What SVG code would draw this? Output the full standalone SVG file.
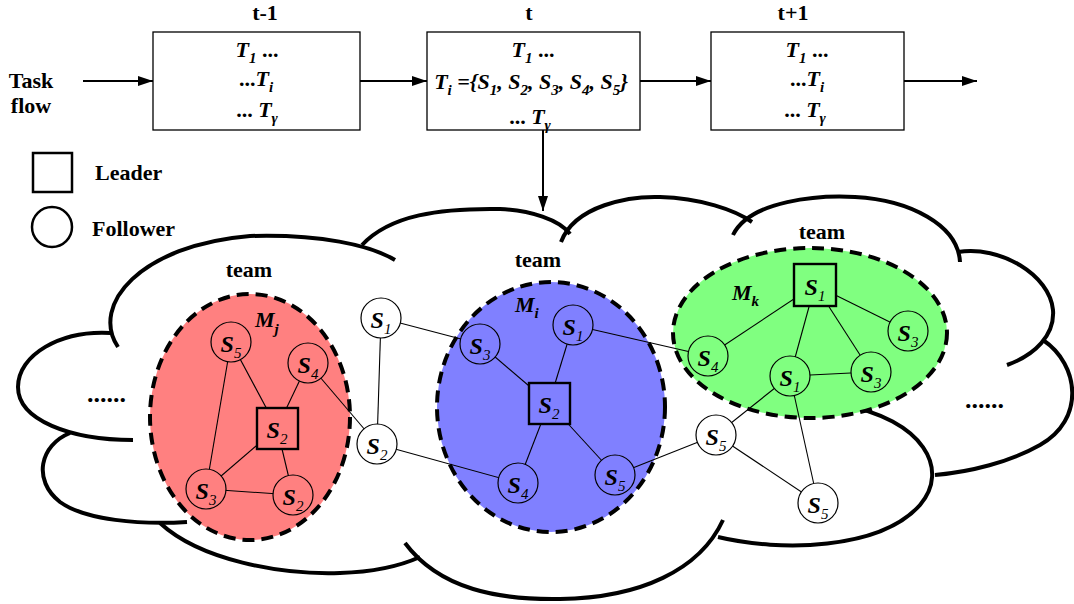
<svg xmlns="http://www.w3.org/2000/svg" width="1074" height="604" viewBox="0 0 1074 604" font-family="'Liberation Serif', 'Times New Roman', 'DejaVu Serif', serif">
<defs>
<marker id="ah" markerUnits="userSpaceOnUse" markerWidth="16" markerHeight="10" refX="15" refY="5" orient="auto">
<path d="M0,0 L15,5 L0,10 z" fill="#000"/>
</marker>
<style>
.lbl{font-weight:bold;font-size:22px;fill:#000}
.bi{font-weight:bold;font-style:italic;font-size:22px;fill:#000}
.sub{font-size:15px}
.sn{font-size:15px;font-weight:normal}
.node{font-weight:bold;font-style:italic;font-size:24px;text-anchor:middle;fill:#000}
.box{fill:#fff;stroke:#000;stroke-width:1.3}
.cloud{fill:none;stroke:#000;stroke-width:4}
.team{stroke:#000;stroke-width:4;stroke-dasharray:12 7}
.edge{stroke:#000;stroke-width:1.1;fill:none}
.fc{stroke:#000;stroke-width:1.2}
.ld{stroke:#000;stroke-width:2.4}
.flow{stroke:#000;stroke-width:2;fill:none;marker-end:url(#ah)}
.dots{font-weight:bold;font-size:26px;fill:#000}
</style>
</defs>
<rect width="1074" height="604" fill="#fff"/>

<!-- top task flow -->
<g id="taskflow-label">
<text class="lbl" x="31" y="88" text-anchor="middle">Task</text>
<text class="lbl" x="31" y="113" text-anchor="middle">flow</text>
</g>
<g id="box-t-1">
<text class="lbl" x="265" y="20" text-anchor="middle">t-1</text>
<rect class="box" x="153" y="32" width="207" height="98"/>
<text class="bi" x="257" y="57" text-anchor="middle">T<tspan class="sub" dy="6">1</tspan><tspan dy="-6" font-style="normal"> ...</tspan></text>
<text class="bi" x="256" y="86" text-anchor="middle"><tspan font-style="normal">...</tspan>T<tspan class="sub" dy="6">i</tspan></text>
<text class="bi" x="257" y="117" text-anchor="middle"><tspan font-style="normal">... </tspan>T<tspan class="sub" dy="6">γ</tspan></text>
</g>
<g id="box-t">
<text class="lbl" x="529" y="20" text-anchor="middle">t</text>
<rect class="box" x="427" y="32" width="213" height="98"/>
<text class="bi" x="533" y="57" text-anchor="middle">T<tspan class="sub" dy="6">1</tspan><tspan dy="-6" font-style="normal"> ...</tspan></text>
<text class="bi" x="531" y="89" text-anchor="middle">T<tspan class="sub" dy="6">i</tspan><tspan dy="-6"> ={S</tspan><tspan class="sub" dy="6">1</tspan><tspan dy="-6">, S</tspan><tspan class="sub" dy="6">2</tspan><tspan dy="-6">, S</tspan><tspan class="sub" dy="6">3</tspan><tspan dy="-6">, S</tspan><tspan class="sub" dy="6">4</tspan><tspan dy="-6">, S</tspan><tspan class="sub" dy="6">5</tspan><tspan dy="-6">}</tspan></text>
<text class="bi" x="530" y="124" text-anchor="middle"><tspan font-style="normal">... </tspan>T<tspan class="sub" dy="6">γ</tspan></text>
</g>
<g id="box-t+1">
<text class="lbl" x="793" y="20" text-anchor="middle">t+1</text>
<rect class="box" x="711" y="32" width="193" height="98"/>
<text class="bi" x="807" y="57" text-anchor="middle">T<tspan class="sub" dy="6">1</tspan><tspan dy="-6" font-style="normal"> ...</tspan></text>
<text class="bi" x="807" y="86" text-anchor="middle"><tspan font-style="normal">...</tspan>T<tspan class="sub" dy="6">i</tspan></text>
<text class="bi" x="805" y="117" text-anchor="middle"><tspan font-style="normal">... </tspan>T<tspan class="sub" dy="6">γ</tspan></text>
</g>

<!-- legend -->
<g id="legend-leader">
<rect x="33" y="153" width="39" height="39" fill="none" stroke="#000" stroke-width="2.5"/>
<text class="lbl" x="95" y="180">Leader</text>
</g>
<g id="legend-follower">
<circle cx="52" cy="227" r="20" fill="none" stroke="#000" stroke-width="2.5"/>
<text class="lbl" x="92" y="236">Follower</text>
</g>

<!-- cloud -->
<g id="cloud" class="cloud">
<path d="M118,347 C90,305 140,245 250,236 C320,234 370,245 395,260"/>
<path d="M111,333 C60,330 18,355 18,387 C18,420 70,440 133,440"/>
<path d="M70,433 C40,445 32,480 60,502 C85,520 140,525 187,522"/>
<path d="M160,523 C200,560 280,575 340,573 C375,572 400,566 420,557"/>
<path d="M405,543 C440,590 500,600 560,599 C640,598 700,570 723,520"/>
<path d="M718,537 C780,552 880,550 920,505 C950,470 925,420 840,404"/>
<path d="M1043,340 C1080,365 1085,420 1040,445 C1010,462 970,472 935,475"/>
<path d="M958,252 C1000,245 1050,275 1053,310 C1055,335 1035,355 1007,365"/>
<path d="M733,235 C750,200 820,195 855,197 C910,200 958,225 960,262"/>
<path d="M561,242 C575,205 630,196 660,197 C700,198 735,210 752,222"/>
<path d="M362,245 C390,215 440,208 500,209 C530,210 560,220 570,234"/>
</g>
<g id="dots">
<text class="dots" x="87" y="402">......</text>
<text class="dots" x="965" y="408">......</text>
</g>

<!-- teams -->
<g id="team-Mj">
<ellipse class="team" cx="250" cy="417" rx="100" ry="123" fill="#FF8080"/>
<text class="lbl" x="249" y="277" text-anchor="middle">team</text>
<text class="bi" x="255" y="327">M<tspan class="sub" dy="7">j</tspan></text>
</g>
<g id="team-Mi">
<ellipse class="team" cx="551" cy="407" rx="114" ry="125" fill="#8080FF"/>
<text class="lbl" x="538" y="267" text-anchor="middle">team</text>
<text class="bi" x="515" y="312">M<tspan class="sub" dy="6">i</tspan></text>
</g>
<g id="team-Mk">
<ellipse class="team" cx="810" cy="333" rx="137" ry="85" fill="#80FF80"/>
<text class="lbl" x="822" y="239" text-anchor="middle">team</text>
<text class="bi" x="732" y="300">M<tspan class="sub" dy="6">k</tspan></text>
</g>

<!-- connectors -->
<g id="connectors">
<line class="flow" x1="83" y1="81" x2="153" y2="81"/>
<line class="flow" x1="360" y1="81" x2="427" y2="81"/>
<line class="flow" x1="640" y1="81" x2="711" y2="81"/>
<line class="flow" x1="904" y1="81" x2="977" y2="81"/>
<line class="flow" x1="543" y1="130" x2="543" y2="211" stroke-width="1.6"/>
<g class="edge">
<line x1="231" y1="342" x2="277" y2="428"/>
<line x1="231" y1="342" x2="206" y2="489"/>
<line x1="308" y1="363" x2="277" y2="428"/>
<line x1="308" y1="363" x2="377" y2="444"/>
<line x1="277" y1="428" x2="206" y2="489"/>
<line x1="277" y1="428" x2="293" y2="495"/>
<line x1="206" y1="489" x2="293" y2="495"/>
<line x1="381" y1="318" x2="377" y2="444"/>
<line x1="381" y1="318" x2="480" y2="344"/>
<line x1="377" y1="444" x2="518" y2="483"/>
<line x1="480" y1="344" x2="549" y2="403"/>
<line x1="573" y1="325" x2="549" y2="403"/>
<line x1="549" y1="403" x2="518" y2="483"/>
<line x1="549" y1="403" x2="615" y2="475"/>
<line x1="573" y1="325" x2="708" y2="356"/>
<line x1="615" y1="475" x2="716" y2="435"/>
<line x1="815" y1="285" x2="708" y2="356"/>
<line x1="815" y1="285" x2="790" y2="376"/>
<line x1="815" y1="285" x2="871" y2="372"/>
<line x1="815" y1="285" x2="908" y2="331"/>
<line x1="790" y1="376" x2="871" y2="372"/>
<line x1="790" y1="376" x2="716" y2="435"/>
<line x1="790" y1="376" x2="818" y2="503"/>
<line x1="716" y1="435" x2="818" y2="503"/>
</g>
</g>

<!-- nodes: team Mj -->
<g id="r-S5"><circle class="fc" cx="231" cy="342" r="20" fill="#FF8080"/><text class="node" x="231" y="352">S<tspan class="sn" dy="6">5</tspan></text></g>
<g id="r-S4"><circle class="fc" cx="308" cy="363" r="20" fill="#FF8080"/><text class="node" x="308" y="373">S<tspan class="sn" dy="6">4</tspan></text></g>
<g id="r-S2-leader"><rect class="ld" x="257" y="408" width="41" height="41" fill="#FF8080"/><text class="node" x="277" y="438">S<tspan class="sn" dy="6">2</tspan></text></g>
<g id="r-S3"><circle class="fc" cx="206" cy="489" r="20" fill="#FF8080"/><text class="node" x="206" y="499">S<tspan class="sn" dy="6">3</tspan></text></g>
<g id="r-S2"><circle class="fc" cx="293" cy="495" r="20" fill="#FF8080"/><text class="node" x="293" y="505">S<tspan class="sn" dy="6">2</tspan></text></g>

<!-- free nodes -->
<g id="o-S1"><circle class="fc" cx="381" cy="318" r="20" fill="#fff"/><text class="node" x="381" y="328">S<tspan class="sn" dy="6">1</tspan></text></g>
<g id="o-S2"><circle class="fc" cx="377" cy="444" r="20" fill="#fff"/><text class="node" x="377" y="454">S<tspan class="sn" dy="6">2</tspan></text></g>
<g id="o-S5a"><circle class="fc" cx="716" cy="435" r="20" fill="#fff"/><text class="node" x="716" y="445">S<tspan class="sn" dy="6">5</tspan></text></g>
<g id="o-S5b"><circle class="fc" cx="818" cy="503" r="20" fill="#fff"/><text class="node" x="818" y="513">S<tspan class="sn" dy="6">5</tspan></text></g>

<!-- nodes: team Mi -->
<g id="b-S3"><circle class="fc" cx="480" cy="344" r="20" fill="#8080FF"/><text class="node" x="480" y="354">S<tspan class="sn" dy="6">3</tspan></text></g>
<g id="b-S1"><circle class="fc" cx="573" cy="325" r="20" fill="#8080FF"/><text class="node" x="573" y="335">S<tspan class="sn" dy="6">1</tspan></text></g>
<g id="b-S2-leader"><rect class="ld" x="529" y="383" width="41" height="41" fill="#8080FF"/><text class="node" x="549" y="413">S<tspan class="sn" dy="6">2</tspan></text></g>
<g id="b-S4"><circle class="fc" cx="518" cy="483" r="20" fill="#8080FF"/><text class="node" x="518" y="493">S<tspan class="sn" dy="6">4</tspan></text></g>
<g id="b-S5"><circle class="fc" cx="615" cy="475" r="20" fill="#8080FF"/><text class="node" x="615" y="485">S<tspan class="sn" dy="6">5</tspan></text></g>

<!-- nodes: team Mk -->
<g id="g-S1-leader"><rect class="ld" x="794" y="264" width="42" height="42" fill="#80FF80"/><text class="node" x="815" y="295">S<tspan class="sn" dy="6">1</tspan></text></g>
<g id="g-S3a"><circle class="fc" cx="908" cy="331" r="20" fill="#80FF80"/><text class="node" x="908" y="341">S<tspan class="sn" dy="6">3</tspan></text></g>
<g id="g-S4"><circle class="fc" cx="708" cy="356" r="20" fill="#80FF80"/><text class="node" x="708" y="366">S<tspan class="sn" dy="6">4</tspan></text></g>
<g id="g-S1"><circle class="fc" cx="790" cy="376" r="20" fill="#80FF80"/><text class="node" x="790" y="386">S<tspan class="sn" dy="6">1</tspan></text></g>
<g id="g-S3b"><circle class="fc" cx="871" cy="372" r="20" fill="#80FF80"/><text class="node" x="871" y="382">S<tspan class="sn" dy="6">3</tspan></text></g>
</svg>
